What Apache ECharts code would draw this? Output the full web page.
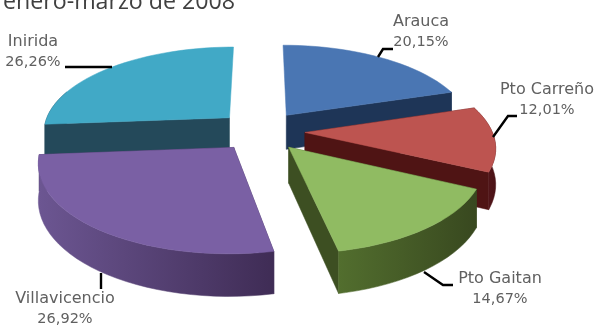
<!DOCTYPE html>
<html><head><meta charset="utf-8">
<style>html,body{margin:0;padding:0;background:#fff}#c{width:597px;height:327px}</style>
<script src="https://cdn.jsdelivr.net/npm/echarts@6/dist/echarts.min.js"></script>
</head><body><div id="c"></div>
<script>
var titleText = 'enero-marzo de 2008';
var categories = ['Arauca', 'Pto Carreño', 'Pto Gaitan', 'Villavicencio', 'Inirida'];
var shares = [20.15, 12.01, 14.67, 26.92, 26.26];

var topColors = ['#4a76b3', '#bd5450', '#90bb62', '#7a60a4', '#41a9c6'];
var faceColors = ['#1e3557', '#4f1414', '#3d4f22', '#43305a', '#24495a'];
var wallFrom = ['#1e3557', '#5f1a1e', '#526e2e', '#6c5692', '#24495a'];
var wallTo = ['#1e3557', '#4a1216', '#38481f', '#3f2c55', '#24495a'];
var paintOrder = [1, 2, 3, 5, 4];

// perspective projection of the tilted, exploded disc
var CX = 261, CY = 131, RX = 187, RY = 85, PERSP = 0.15, DEPTH = 35, EXPLODE = 0.235;
var STEP = 3;

// label centre (x, first-line y) and leader polyline, per category
var labelAt = [[421, 22], [547, 90], [500, 279], [65, 299], [33, 41.5]];
var leaders = [
  [[378, 57], [383, 49], [393, 49]],
  [[493, 137], [508, 116], [517, 116]],
  [[424, 272], [443, 285], [453, 285]],
  [[101, 273], [101, 289]],
  [[112, 67], [65, 67]]
];

var total = shares.reduce(function (a, b) { return a + b; }, 0);
var starts = [], acc = 0;
shares.forEach(function (v) { starts.push(acc / total * 360); acc += v; });

function rad(d) { return d * Math.PI / 180; }
function project(X, Y, down) {
  var k = 1 / (1 + PERSP * Y);
  return [CX + RX * X * k, CY - RY * Y * k + (down ? DEPTH * k : 0)];
}

function renderItem(params, api) {
  var i = params.dataIndex;
  var sweep = api.value(1) / total * 360;
  var a0 = starts[i], a1 = a0 + sweep, mid = a0 + sweep / 2;
  var ex = EXPLODE * Math.sin(rad(mid)), ey = EXPLODE * Math.cos(rad(mid));
  var angs = [];
  for (var a = a0; a < a1; a += STEP) angs.push(a);
  angs.push(a1);
  function rimAt(a, down) { return project(Math.sin(rad(a)) + ex, Math.cos(rad(a)) + ey, down); }
  var topArc = angs.map(function (a) { return rimAt(a, false); });
  // the outer wall only shows on the part of the rim turned towards the viewer
  var wallAngs = angs.filter(function (a) { return Math.cos(rad(a)) < 0.35; });
  var apex = project(ex, ey, false), apexLow = project(ex, ey, true);
  var z = paintOrder[i] * 10;
  var kids = [];
  function poly(points, fill, zz) {
    kids.push({ type: 'polygon', shape: { points: points }, style: { fill: fill, stroke: fill, lineWidth: 0.5 }, z2: zz });
  }
  // radial faces pointing away from the viewer stay hidden
  if (Math.cos(rad(a0)) < 0.9) poly([apex, rimAt(a0, false), rimAt(a0, true), apexLow], faceColors[i], z);
  if (Math.cos(rad(a1)) < 0.9) poly([apex, rimAt(a1, false), rimAt(a1, true), apexLow], faceColors[i], z + 1);
  if (wallAngs.length > 1) {
    var wallTop = wallAngs.map(function (a) { return rimAt(a, false); });
    var wallLow = wallAngs.map(function (a) { return rimAt(a, true); });
    poly(wallTop.concat(wallLow.reverse()),
      new echarts.graphic.LinearGradient(0, 0, 1, 0, [
        { offset: 0, color: wallFrom[i] }, { offset: 1, color: wallTo[i] }
      ]), z + 2);
  }
  poly([apex].concat(topArc), topColors[i], z + 3);

  kids.push({ type: 'polyline', shape: { points: leaders[i] },
    style: { stroke: '#000', lineWidth: 2.4, fill: 'none' }, z2: 70 });
  var pct = api.value(1).toFixed(2).replace('.', ',') + '%';
  kids.push({ type: 'text', x: labelAt[i][0], y: labelAt[i][1],
    style: { text: categories[i], fill: '#606060', font: '16px "DejaVu Sans", sans-serif', align: 'center', verticalAlign: 'middle' }, z2: 80 });
  kids.push({ type: 'text', x: labelAt[i][0], y: labelAt[i][1] + 20.5,
    style: { text: pct, fill: '#606060', font: '14.5px "DejaVu Sans", sans-serif', align: 'center', verticalAlign: 'middle' }, z2: 80 });
  return { type: 'group', children: kids };
}

var chart = echarts.init(document.getElementById('c'), null, { renderer: 'canvas' });
chart.setOption({
  animation: false,
  title: { text: titleText, left: -2, top: -14, textStyle: { color: '#404040', fontSize: 23.2, fontWeight: 'normal', fontFamily: '"Open Sans", sans-serif' } },
  series: [{
    type: 'custom', coordinateSystem: 'none', renderItem: renderItem, clip: false,
    encode: { value: 1 },
    data: shares.map(function (v, i) { return [i, v]; })
  }]
});
</script></body></html>
